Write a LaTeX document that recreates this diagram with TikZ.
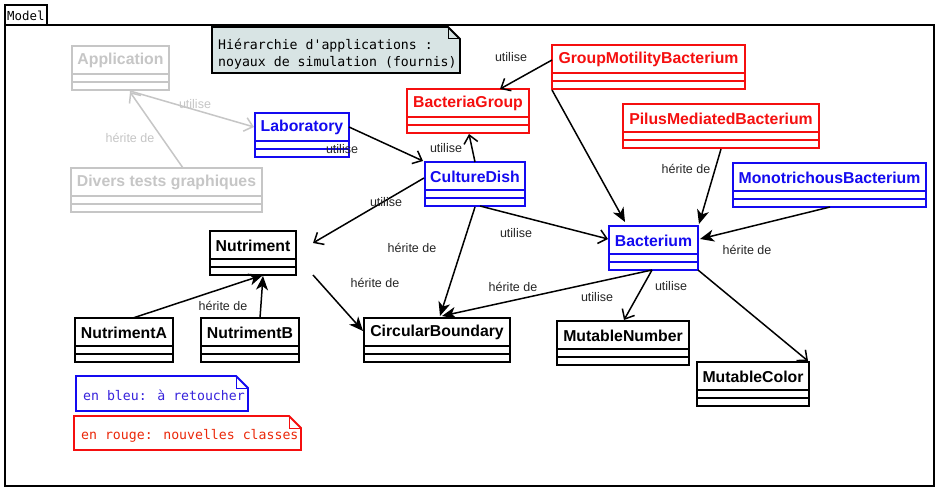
\documentclass[tikz,border=0pt]{standalone}
\usepackage{fontspec}
\setmainfont{Liberation Sans}
\newfontfamily\monof[Ligatures=TeXOff]{DejaVu Sans Mono}
\usetikzlibrary{arrows.meta,calc}
\definecolor{umlgray}{RGB}{198,198,198}
\definecolor{umlblue}{RGB}{20,10,240}
\definecolor{umlred}{RGB}{245,15,15}
\definecolor{notefill}{RGB}{216,228,228}
\definecolor{bluetext}{RGB}{55,35,220}
\definecolor{redtext}{RGB}{235,40,10}
\tikzset{
  boxline/.style={line width=1.8pt},
  uses/.style={line width=1.5pt, -{Straight Barb[length=8pt,width=14pt,line width=1.5pt]}},
  inherits/.style={line width=1.5pt, -{Stealth[length=14pt,width=12pt,inset=4pt]}},
  elabel/.style={font=\fontsize{12.5}{14}\selectfont, text=black!85, inner sep=0pt},
  cname/.style={font=\fontsize{15.8}{17}\selectfont\bfseries, inner sep=0pt},
  notetext/.style={font=\monof\fontsize{13.2}{16}\selectfont, inner sep=0pt, anchor=west},
}
\newcommand\umlclass[6]{%
  \node[draw=#2, boxline, fill=white, inner sep=0pt, outer sep=0pt,
        minimum width=#5pt, minimum height=44pt, anchor=north west] (#1) at (#3,#4) {};
  \draw[#2, boxline] ($(#1.north west)+(0,28)$) -- ($(#1.north east)+(0,28)$);
  \draw[#2, boxline] ($(#1.north west)+(0,36)$) -- ($(#1.north east)+(0,36)$);
  \node[cname, text=#2] at ($(#1.north)+(0,14.5)$) {#6};
}
\begin{document}
\begin{tikzpicture}[x=1pt,y=-1pt]
\useasboundingbox (0,0) rectangle (942,494);
\fill[white] (0,0) rectangle (942,494);
% frame
\draw[line width=1.6pt] (5,25) rectangle (934,486);
\draw[line width=1.6pt] (5,5) rectangle (47,25);
\node[font=\monof\fontsize{12.4}{14}\selectfont, inner sep=0pt, anchor=west] (modeltitle) at (7,15.5) {Model};
% top note
\filldraw[fill=notefill, line width=1.8pt] (212,27) -- (448,27) -- (460,39) -- (460,73) -- (212,73) -- cycle;
\draw[line width=1pt] (448,27) -- (448,39) -- (460,39);
\node[notetext] (n1) at (218,45.5) {Hiérarchie d'applications :};
\node[notetext] (n2) at (218,62.5) {noyaux de simulation (fournis)};
% classes
\umlclass{app}{umlgray}{72}{46}{97}{Application}
\umlclass{divers}{umlgray}{71}{168}{191}{Divers tests graphiques}
\umlclass{lab}{umlblue}{255}{113}{94}{Laboratory}
\umlclass{cult}{umlblue}{425}{162}{100}{CultureDish}
\umlclass{bgroup}{umlred}{407}{89}{122}{BacteriaGroup}
\umlclass{gmb}{umlred}{552}{45}{193}{GroupMotilityBacterium}
\umlclass{pilus}{umlred}{623}{104}{196}{PilusMediatedBacterium}
\umlclass{mono}{umlblue}{733}{163}{193}{MonotrichousBacterium}
\umlclass{bact}{umlblue}{609}{226}{89}{Bacterium}
\umlclass{mutnum}{black}{557}{321}{132}{MutableNumber}
\umlclass{mutcol}{black}{697}{362}{112}{MutableColor}
\umlclass{circ}{black}{364}{318}{146}{CircularBoundary}
\umlclass{nut}{black}{210}{231}{86}{Nutriment}
\umlclass{nutA}{black}{75}{318}{98}{NutrimentA}
\umlclass{nutB}{black}{201}{318}{98}{NutrimentB}
% free ends near Nutriment
\coordinate (nutIn) at ($(nut.north west)+(103,12)$);
\coordinate (nutOut) at ($(nut.north west)+(103,44)$);
% connectors
\draw[uses, umlgray] ($(app.north west)+(58,45)$) -- ($(lab.north west)+(-1,14)$);
\draw[uses, umlgray] ($(divers.north west)+(112,0)$) -- ($(app.north west)+(58,46)$);
\draw[uses] ($(lab.north west)+(94,14)$) -- ($(cult.north west)+(-2,-1)$);
\draw[uses] ($(cult.north west)+(50,0)$) -- ($(bgroup.north west)+(62,45)$);
\draw[uses] ($(gmb.north west)+(0,15)$) -- ($(bgroup.north west)+(93,0)$);
\draw[inherits] ($(gmb.north west)+(0,45)$) -- ($(bact.north west)+(16,-4)$);
\draw[inherits] ($(pilus.north west)+(98,45)$) -- ($(bact.north west)+(90,-2)$);
\draw[inherits] ($(mono.north west)+(97,44)$) -- ($(bact.north west)+(91,13)$);
\draw[uses] ($(cult.north west)+(-1,16)$) -- (nutIn);
\draw[uses] ($(cult.north west)+(55,44)$) -- ($(bact.north west)+(-1,13)$);
\draw[inherits] ($(cult.north west)+(50,45)$) -- ($(circ.north west)+(76,-2)$);
\draw[inherits] (nutOut) -- ($(circ.north west)+(-1,13)$);
\draw[inherits] ($(bact.north west)+(43,44)$) -- ($(circ.north west)+(78,-2)$);
\draw[uses] ($(bact.north west)+(43,44)$) -- ($(mutnum.north west)+(67,-1)$);
\draw[uses] ($(bact.north west)+(89,44)$) -- ($(mutcol.north west)+(111,-1)$);
\draw[inherits] ($(nutA.north west)+(58,0)$) -- ($(nut.north west)+(53,44)$);
\draw[inherits] ($(nutB.north west)+(59,0)$) -- ($(nut.north west)+(53,45)$);
% labels
\node[elabel, text=umlgray] (l1) at (195,104) {utilise};
\node[elabel, text=umlgray] (l2) at (130,138) {hérite de};
\node[elabel] (l3) at (342,149) {utilise};
\node[elabel] (l4) at (446,148) {utilise};
\node[elabel] (l5) at (511,57) {utilise};
\node[elabel] (l6) at (386,202) {utilise};
\node[elabel] (l7) at (686,169) {hérite de};
\node[elabel] (l8) at (747,250) {hérite de};
\node[elabel] (l9) at (516,233) {utilise};
\node[elabel] (l10) at (412,248) {hérite de};
\node[elabel] (l11) at (375,283) {hérite de};
\node[elabel] (l12) at (513,287) {hérite de};
\node[elabel] (l13) at (597,297) {utilise};
\node[elabel] (l14) at (671,286) {utilise};
\node[elabel] (l15) at (223,306) {hérite de};
% legend notes
\draw[umlblue, line width=1.8pt, fill=white] (76,376) -- (236,376) -- (248,388) -- (248,411) -- (76,411) -- cycle;
\draw[umlblue, line width=1pt] (236,376) -- (236,388) -- (248,388);
\node[notetext, text=bluetext] (nb) at (83,395.5) {en bleu: à retoucher};
\draw[umlred, line width=1.8pt, fill=white] (74,416) -- (289,416) -- (301,428) -- (301,450) -- (74,450) -- cycle;
\draw[umlred, line width=1pt] (289,416) -- (289,428) -- (301,428);
\node[notetext, text=redtext] (nr) at (81,436) {en rouge: nouvelles classes};
\end{tikzpicture}
\end{document}
